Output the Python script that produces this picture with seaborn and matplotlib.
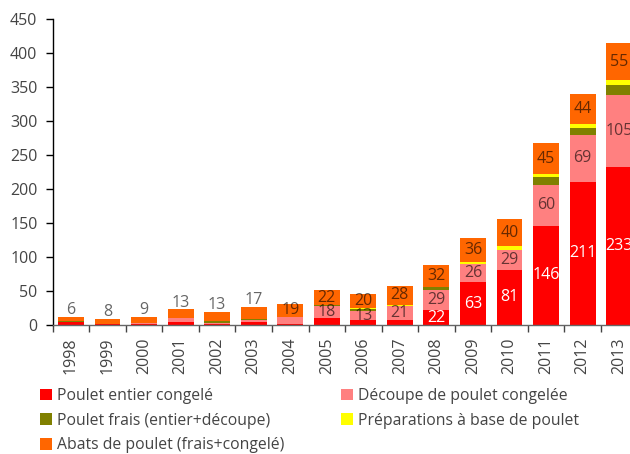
import numpy as np
import pandas as pd
import matplotlib
matplotlib.use("Agg")
import matplotlib.pyplot as plt
from matplotlib.patches import Patch
import seaborn as sns

# data (thousand tonnes)
years = ['1998', '1999', '2000', '2001', '2002', '2003', '2004', '2005',
         '2006', '2007', '2008', '2009', '2010', '2011', '2012', '2013']
entier = [5, 1, 2, 5, 2, 5, 2, 10, 7, 7, 22, 63, 81, 146, 211, 233]
decoupe = [0, 0, 1, 5, 1.5, 2, 10, 18, 13, 21, 29, 26, 29, 60, 69, 105]
frais = [1, 0, 0, 0, 3, 2.5, 0, 1, 3, 0, 5, 0.5, 1, 12, 9, 15]
prep = [0, 0, 0, 0, 0, 0, 0, 0, 2, 1.5, 0.5, 3, 5, 4, 7, 7]
abats = [6, 8, 9, 13, 13, 17, 19, 22, 20, 28, 32, 36, 40, 45, 44, 55]

series = ['Poulet entier congelé', 'Découpe de poulet congelée',
          'Poulet frais (entier+découpe)', 'Préparations à base de poulet',
          'Abats de poulet (frais+congelé)']
colors = ['#FF0000', '#FF8080', '#808000', '#FFFF00', '#FF6600']

df = pd.DataFrame({'year': years, series[0]: entier, series[1]: decoupe,
                   series[2]: frais, series[3]: prep, series[4]: abats})
cum = df[series].cumsum(axis=1)

sns.set_theme(style="white")
plt.rcParams['font.family'] = ['Open Sans', 'DejaVu Sans']
txt = '#444444'

fig = plt.figure(figsize=(6.3, 4.54), dpi=100)
ax = fig.add_axes([52.7 / 630, 129 / 454, 584.7 / 630, 306 / 454])

# stacked bars: draw cumulative totals from top layer down
for name, col in reversed(list(zip(series, colors))):
    sns.barplot(x=df['year'], y=cum[name], color=col, saturation=1,
                width=0.71, linewidth=0, errorbar=None, ax=ax)

# value labels
lab_kw = dict(ha='center', fontsize=11.5)
for i in range(len(years)):
    if entier[i] >= 12:
        ax.text(i, entier[i] / 2, f'{entier[i]:g}', va='center',
                color='white', **lab_kw)
    if decoupe[i] >= 12:
        y0 = entier[i]
        ax.text(i, y0 + decoupe[i] / 2, f'{decoupe[i]:g}', va='center',
                color='black', alpha=0.6, **lab_kw)
    top = cum[series[4]][i]
    if abats[i] >= 19:
        ax.text(i, top - abats[i] / 2, f'{abats[i]:g}', va='center',
                color='black', alpha=0.6, **lab_kw)
    else:
        ax.text(i, top - 2, f'{abats[i]:g}', va='bottom',
                color='black', alpha=0.6, **lab_kw)

ax.set_xlim(-0.5, 15.5)
ax.set_ylim(0, 450)
ax.set_yticks(range(0, 451, 50))
ax.set_xlabel('')
ax.set_ylabel('')

for s in ['top', 'right']:
    ax.spines[s].set_visible(False)
ax.spines['left'].set_color('black')
ax.spines['left'].set_linewidth(1)
ax.spines['bottom'].set_color('#666666')
ax.spines['bottom'].set_linewidth(1)

ax.set_xticks(np.arange(-0.5, 16, 1), minor=True)
ax.tick_params(axis='x', which='major', length=0, pad=9, labelsize=11.5,
               labelcolor=txt, rotation=90)
ax.tick_params(axis='x', which='minor', length=5, width=1, color='#444444',
               direction='out', bottom=True)
ax.tick_params(axis='y', which='major', length=5, width=1, color='black',
               direction='out', left=True, pad=6, labelsize=11.5,
               labelcolor=txt)

# legend, column-wise order as in the reference
order = [0, 2, 4, 1, 3]
handles = [Patch(facecolor=colors[k], edgecolor='none') for k in order]
labels = [series[k] for k in order]
fig.legend(handles, labels, ncol=2, loc='upper left',
           bbox_to_anchor=(40 / 630, 1 - 388 / 454), frameon=False,
           fontsize=11.3, labelcolor=txt, handlelength=0.75,
           handleheight=0.75, handletextpad=0.35, labelspacing=0.55,
           columnspacing=3.6, borderaxespad=0, borderpad=0)

fig.savefig('out.png', dpi=100)
